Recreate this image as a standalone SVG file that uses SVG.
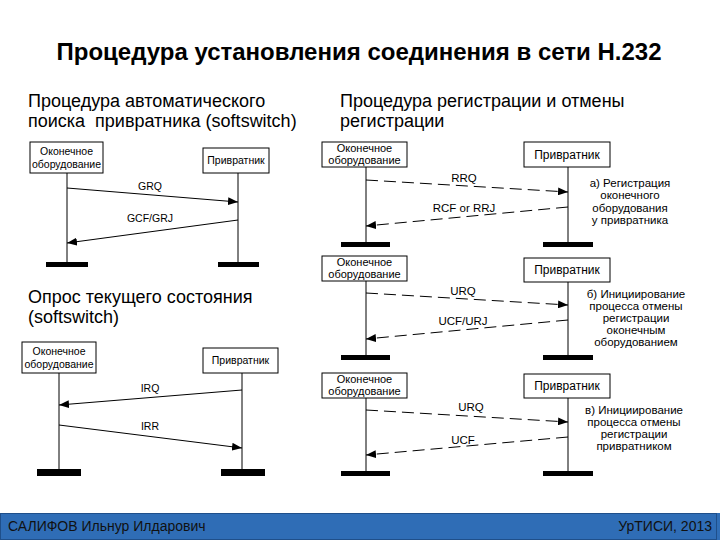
<svg xmlns="http://www.w3.org/2000/svg" width="720" height="540" viewBox="0 0 720 540">
<defs>
<marker id="ah" viewBox="0 0 10 8" refX="10" refY="4" markerWidth="10" markerHeight="8" markerUnits="userSpaceOnUse" orient="auto">
<path d="M0,0 L10,4 L0,8 Z" fill="#000"/>
</marker>
</defs>
<style>
.title{font-family:"Liberation Sans",Arial,sans-serif;font-weight:bold;font-size:24px;fill:#000}
.head{font-family:"Liberation Sans",Arial,sans-serif;font-size:18px;fill:#000}
.box{fill:#fff;stroke:#000;stroke-width:1}
.bt{font-family:"Liberation Sans",Arial,sans-serif;font-size:10.5px;fill:#000;text-anchor:middle}
.bt2{font-family:"Liberation Sans",Arial,sans-serif;font-size:11px;fill:#000;text-anchor:middle}
.bt3{font-family:"Liberation Sans",Arial,sans-serif;font-size:12px;fill:#000;text-anchor:middle}
.lbl{font-family:"Liberation Sans",Arial,sans-serif;font-size:10.5px;fill:#000;text-anchor:middle}
.lbl2{font-family:"Liberation Sans",Arial,sans-serif;font-size:11.5px;fill:#000;text-anchor:middle}
.note{font-family:"Liberation Sans",Arial,sans-serif;font-size:11.5px;fill:#000;text-anchor:middle}
.life{stroke:#000;stroke-width:1;fill:none}
.bar{fill:#000}
.msg{stroke:#000;stroke-width:1;fill:none;marker-end:url(#ah)}
.dmsg{stroke:#000;stroke-width:1;fill:none;stroke-dasharray:12,6;marker-end:url(#ah)}
.foot{font-family:"Liberation Sans",Arial,sans-serif;font-size:14px;fill:#111}
</style>
<rect width="720" height="540" fill="#fff"/>
<text class="title" x="359" y="60" text-anchor="middle">Процедура установления соединения в сети H.232</text>
<text class="head" x="28" y="107">Процедура автоматического</text>
<text class="head" x="28" y="127" xml:space="preserve">поиска  привратника (softswitch)</text>
<text class="head" x="340" y="107">Процедура регистрации и отмены</text>
<text class="head" x="340" y="127">регистрации</text>
<text class="head" x="28" y="303">Опрос текущего состояния</text>
<text class="head" x="28" y="323">(softswitch)</text>

<!-- Diagram 1 -->
<g id="d1-terminal">
<rect class="box" x="30" y="142" width="73" height="31"/>
<text class="bt" x="66.5" y="155">Оконечное</text>
<text class="bt" x="66.5" y="168">оборудование</text>
<line class="life" x1="67" y1="173" x2="67" y2="263"/>
<rect class="bar" x="46" y="262" width="42" height="5"/>
</g>
<g id="d1-gatekeeper">
<rect class="box" x="203" y="148" width="66" height="25"/>
<text class="bt" x="236" y="164">Привратник</text>
<line class="life" x1="238" y1="173" x2="238" y2="263"/>
<rect class="bar" x="218" y="262" width="41" height="5"/>
</g>

<!-- Diagram 3 -->
<g id="d3-terminal">
<rect class="box" x="22" y="342" width="74" height="31"/>
<text class="bt" x="59" y="355">Оконечное</text>
<text class="bt" x="59" y="368">оборудование</text>
<line class="life" x1="59" y1="373" x2="59" y2="470"/>
<rect class="bar" x="37" y="469" width="44" height="7"/>
</g>
<g id="d3-gatekeeper">
<rect class="box" x="203" y="348" width="75" height="25"/>
<text class="bt" x="240.5" y="364">Привратник</text>
<line class="life" x1="242" y1="373" x2="242" y2="470"/>
<rect class="bar" x="221" y="469" width="44" height="7"/>
</g>

<!-- Right diagrams -->
<g id="a-terminal">
<rect class="box" x="322" y="142" width="85" height="25"/>
<text class="bt2" x="364.5" y="152">Оконечное</text>
<text class="bt2" x="364.5" y="164.3">оборудование</text>
<line class="life" x1="366" y1="167" x2="366" y2="243"/>
<rect class="bar" x="341" y="242" width="49" height="5"/>
</g>
<g id="a-gatekeeper">
<rect class="box" x="524" y="142" width="86" height="25"/>
<text class="bt3" x="567" y="159">Привратник</text>
<line class="life" x1="568" y1="167" x2="568" y2="243"/>
<rect class="bar" x="543" y="242" width="50" height="5"/>
</g>
<g id="a-note">
<text class="note" x="630" y="187">а) Регистрация</text>
<text class="note" x="630" y="199">оконечного</text>
<text class="note" x="630" y="212">оборудования</text>
<text class="note" x="630" y="224">у привратника</text>
</g>

<g id="b-terminal">
<rect class="box" x="322" y="256" width="85" height="25"/>
<text class="bt2" x="364.5" y="266">Оконечное</text>
<text class="bt2" x="364.5" y="278.3">оборудование</text>
<line class="life" x1="366" y1="281" x2="366" y2="356"/>
<rect class="bar" x="341" y="355" width="49" height="5"/>
</g>
<g id="b-gatekeeper">
<rect class="box" x="524" y="258" width="86" height="24"/>
<text class="bt3" x="567" y="274">Привратник</text>
<line class="life" x1="568" y1="282" x2="568" y2="356"/>
<rect class="bar" x="543" y="355" width="50" height="5"/>
</g>
<g id="b-note">
<text class="note" x="636" y="298">б) Инициирование</text>
<text class="note" x="636" y="310">процесса отмены</text>
<text class="note" x="636" y="322">регистрации</text>
<text class="note" x="636" y="334">оконечным</text>
<text class="note" x="636" y="346">оборудованием</text>
</g>

<g id="c-terminal">
<rect class="box" x="322" y="373" width="85" height="25"/>
<text class="bt2" x="364.5" y="383">Оконечное</text>
<text class="bt2" x="364.5" y="395.3">оборудование</text>
<line class="life" x1="366" y1="398" x2="366" y2="472"/>
<rect class="bar" x="341" y="471" width="49" height="5"/>
</g>
<g id="c-gatekeeper">
<rect class="box" x="524" y="374" width="86" height="24"/>
<text class="bt3" x="567" y="390">Привратник</text>
<line class="life" x1="568" y1="398" x2="568" y2="472"/>
<rect class="bar" x="543" y="471" width="50" height="5"/>
</g>
<g id="c-note">
<text class="note" x="634" y="414">в) Инициирование</text>
<text class="note" x="634" y="426">процесса отмены</text>
<text class="note" x="634" y="438">регистрации</text>
<text class="note" x="634" y="450">привратником</text>
</g>

<g id="connectors">
<line class="msg" x1="67" y1="188" x2="238" y2="202"/>
<text class="lbl" x="150" y="190">GRQ</text>
<line class="msg" x1="238" y1="220" x2="67" y2="243"/>
<text class="lbl" x="150" y="222">GCF/GRJ</text>

<line class="msg" x1="242" y1="390" x2="59" y2="405"/>
<text class="lbl" x="150" y="392">IRQ</text>
<line class="msg" x1="59" y1="425" x2="242" y2="448"/>
<text class="lbl" x="150" y="430">IRR</text>

<line class="dmsg" x1="366" y1="180" x2="568" y2="192"/>
<text class="lbl2" x="464" y="182">RRQ</text>
<line class="dmsg" x1="568" y1="207" x2="366" y2="226"/>
<text class="lbl2" x="464" y="212">RCF or RRJ</text>

<line class="dmsg" x1="366" y1="293" x2="568" y2="305"/>
<text class="lbl2" x="463" y="295">URQ</text>
<line class="dmsg" x1="568" y1="320" x2="366" y2="339"/>
<text class="lbl2" x="463" y="325">UCF/URJ</text>

<line class="dmsg" x1="366" y1="410" x2="568" y2="422"/>
<text class="lbl2" x="471" y="411">URQ</text>
<line class="dmsg" x1="568" y1="437" x2="366" y2="455"/>
<text class="lbl2" x="463" y="444">UCF</text>
</g>

<g id="footer">
<rect x="0" y="513" width="720" height="27" fill="#2f6db6"/>
<rect x="0.5" y="513.5" width="716" height="26" fill="none" stroke="#1f4f8a" stroke-width="1"/>
<text class="foot" x="8" y="531">САЛИФОВ Ильнур Илдарович</text>
<text class="foot" x="712" y="531" text-anchor="end">УрТИСИ, 2013</text>
</g>
</svg>
